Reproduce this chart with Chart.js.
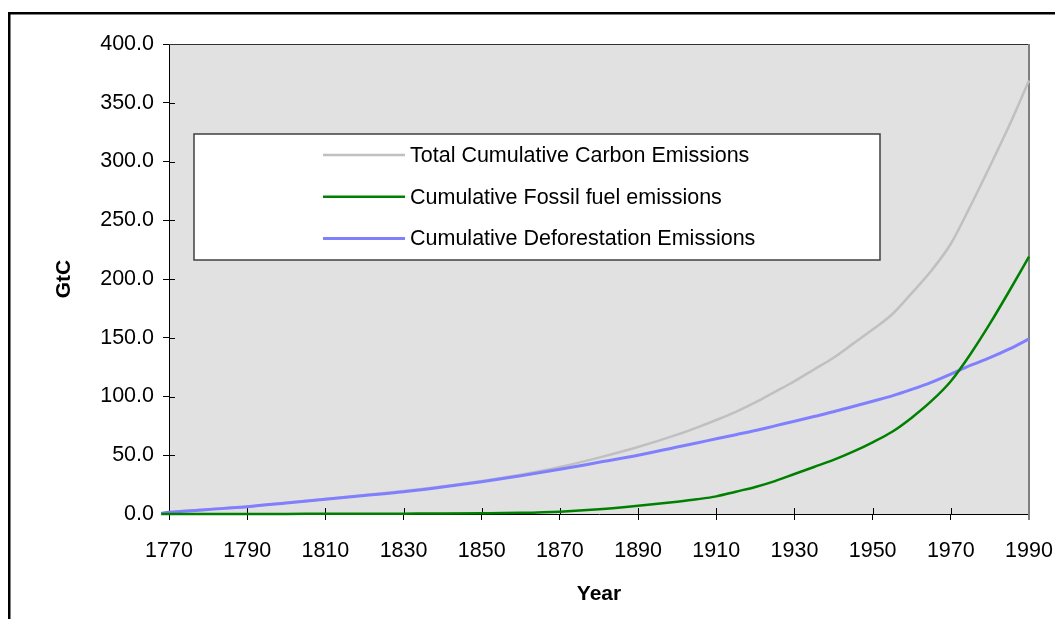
<!DOCTYPE html>
<html>
<head>
<meta charset="utf-8">
<title>Cumulative Carbon Emissions</title>
<script src="https://cdn.jsdelivr.net/npm/chart.js"></script>
<style>
    html, body { margin: 0; padding: 0; background: #fff; }
    #GraficoEmissoes { display: block; }
</style>
</head>
<body>
<canvas id="GraficoEmissoes" width="1055" height="619"></canvas>
<script>
// values, GtC
var years = [1768, 1770, 1780, 1790, 1800, 1810, 1820, 1830, 1840, 1850, 1860, 1870, 1880, 1890, 1900,
    1905, 1910, 1915, 1920, 1925, 1930, 1935, 1940, 1945, 1950, 1955, 1960, 1965, 1970, 1975, 1980, 1985, 1990];
var totalEmissions = [0.6, 1.5, 4.0, 6.4, 9.5, 12.8, 16.1, 19.5, 23.6, 28.2, 33.5, 40, 48, 57, 67.5,
    73.5, 80, 87, 95, 104, 113, 123, 133, 145, 157, 170, 188, 207, 230, 262, 296, 331, 369];
var fossilEmissions = [0, 0, 0, 0.1, 0.1, 0.2, 0.2, 0.3, 0.4, 0.6, 1.0, 2.0, 4.0, 7.0, 10.5,
    12.5, 15, 19, 23, 28, 34, 40, 46, 53, 61, 70, 82, 96, 113, 136, 162, 190, 219];
var deforestationEmissions = [0.6, 1.4, 3.8, 6.2, 9.3, 12.5, 15.7, 19, 23, 27.5, 32.5, 38, 44, 50, 57,
    60.5, 64, 67.5, 71, 75, 79, 83, 87, 91.5, 96, 100.5, 106, 112, 119, 126.5, 133, 140.5, 149];
var seriesNames = ["Total Cumulative Carbon Emissions", "Cumulative Fossil fuel emissions", "Cumulative Deforestation Emissions"];
var xTicks = [1770, 1790, 1810, 1830, 1850, 1870, 1890, 1910, 1930, 1950, 1970, 1990];
var yTicks = [0, 50, 100, 150, 200, 250, 300, 350, 400];

function MontarPontos(valores) {
    return years.map(function (ano, i) { return { x: ano, y: valores[i] }; });
}

var fonte = "'Liberation Sans', Arial, sans-serif";

var molduraPlugin = {
    id: 'moldura',
    beforeDraw: function (chart) {
        var ctx = chart.ctx, a = chart.chartArea;
        ctx.save();
        ctx.fillStyle = "#ffffff";
        ctx.fillRect(0, 0, chart.width, chart.height);
        ctx.fillStyle = "#000000";
        ctx.fillRect(8, 12, chart.width - 8, 2.5);
        ctx.fillRect(8, 12, 2.5, chart.height - 12);
        ctx.fillStyle = "#e1e1e1";
        ctx.fillRect(a.left, a.top, a.right - a.left, a.bottom - a.top);
        ctx.restore();
    },
    beforeDatasetsDraw: function (chart) {
        var ctx = chart.ctx, a = chart.chartArea;
        var xs = chart.scales.x, ys = chart.scales.y;
        ctx.save();
        ctx.strokeStyle = "#000000";
        ctx.lineWidth = 1;
        ctx.beginPath();
        yTicks.forEach(function (v) {
            var py = Math.round(ys.getPixelForValue(v)) + 0.5;
            ctx.moveTo(a.left, py);
            ctx.lineTo(a.left + 6, py);
        });
        xTicks.forEach(function (v) {
            var px = Math.round(xs.getPixelForValue(v)) + 0.5;
            ctx.moveTo(px, a.bottom);
            ctx.lineTo(px, a.bottom - 6);
        });
        ctx.stroke();
        ctx.strokeStyle = "#303030";
        ctx.beginPath();
        ctx.moveTo(a.left, a.top + 0.5);
        ctx.lineTo(a.right, a.top + 0.5);
        ctx.stroke();
        ctx.strokeStyle = "#808080";
        ctx.lineWidth = 2;
        ctx.beginPath();
        ctx.moveTo(a.right, a.top);
        ctx.lineTo(a.right, a.bottom + 6);
        ctx.stroke();
        ctx.restore();
    },
    afterDatasetsDraw: function (chart) {
        // legend box inside the plot area
        var ctx = chart.ctx;
        ctx.save();
        ctx.fillStyle = "#ffffff";
        ctx.fillRect(194, 134, 686, 126);
        ctx.strokeStyle = "#404040";
        ctx.lineWidth = 1.5;
        ctx.strokeRect(194, 134, 686, 126);
        ctx.font = "21.5px " + fonte;
        ctx.textBaseline = "middle";
        chart.data.datasets.forEach(function (ds, i) {
            var ly = 155 + i * 41.7;
            ctx.strokeStyle = ds.borderColor;
            ctx.lineWidth = ds.borderWidth;
            ctx.beginPath();
            ctx.moveTo(323, ly);
            ctx.lineTo(405, ly);
            ctx.stroke();
            ctx.fillStyle = "#000000";
            ctx.fillText(ds.label, 410, ly + 1);
        });
        ctx.restore();
    }
};

new Chart(document.getElementById("GraficoEmissoes"), {
    type: 'line',
    data: {
        datasets: [{
            label: seriesNames[0],
            data: MontarPontos(totalEmissions),
            borderColor: "#c0c0c0",
            borderWidth: 2.5,
            order: 3
        }, {
            label: seriesNames[1],
            data: MontarPontos(fossilEmissions),
            borderColor: "#008000",
            borderWidth: 2.5,
            order: 1
        }, {
            label: seriesNames[2],
            data: MontarPontos(deforestationEmissions),
            borderColor: "#8080ff",
            borderWidth: 3,
            order: 2
        }]
    },
    options: {
        responsive: false,
        animation: false,
        devicePixelRatio: 1,
        layout: { padding: { left: 0, top: 44, right: 26, bottom: 0 } },
        elements: {
            point: { radius: 0 },
            line: { fill: false, cubicInterpolationMode: 'monotone' }
        },
        datasets: { line: { clip: false } },
        plugins: {
            legend: { display: false },
            tooltip: { enabled: false }
        },
        scales: {
            x: {
                type: 'linear',
                min: 1770,
                max: 1990,
                afterBuildTicks: function (scale) {
                    scale.ticks = xTicks.map(function (v) { return { value: v }; });
                },
                afterFit: function (scale) {
                    scale.height = 105;
                    scale.paddingLeft = 0;
                    scale.paddingRight = 0;
                },
                grid: { display: true, drawOnChartArea: false, drawTicks: true, tickLength: 6, color: "#000000" },
                border: { display: true, color: "#000000", width: 1 },
                ticks: {
                    color: "#000000",
                    font: { family: fonte, size: 21.5 },
                    padding: 18,
                    maxRotation: 0,
                    autoSkip: false,
                    callback: function (v) { return String(v); }
                },
                title: {
                    display: true,
                    text: "Year",
                    color: "#000000",
                    font: { family: fonte, size: 21, weight: 'bold' },
                    padding: { top: 0, bottom: 12 }
                }
            },
            y: {
                min: 0,
                max: 400,
                afterBuildTicks: function (scale) {
                    scale.ticks = yTicks.map(function (v) { return { value: v }; });
                },
                afterFit: function (scale) {
                    scale.width = 169;
                    scale.paddingTop = 0;
                    scale.paddingBottom = 0;
                },
                grid: { display: true, drawOnChartArea: false, drawTicks: true, tickLength: 6, color: "#000000" },
                border: { display: true, color: "#000000", width: 1 },
                ticks: {
                    color: "#000000",
                    font: { family: fonte, size: 21.5 },
                    padding: 9,
                    callback: function (v) { return Number(v).toFixed(1); }
                },
                title: {
                    display: true,
                    text: "GtC",
                    color: "#000000",
                    font: { family: fonte, size: 21, weight: 'bold' },
                    padding: { top: 52, bottom: 0 }
                }
            }
        }
    },
    plugins: [molduraPlugin]
});
</script>
</body>
</html>
